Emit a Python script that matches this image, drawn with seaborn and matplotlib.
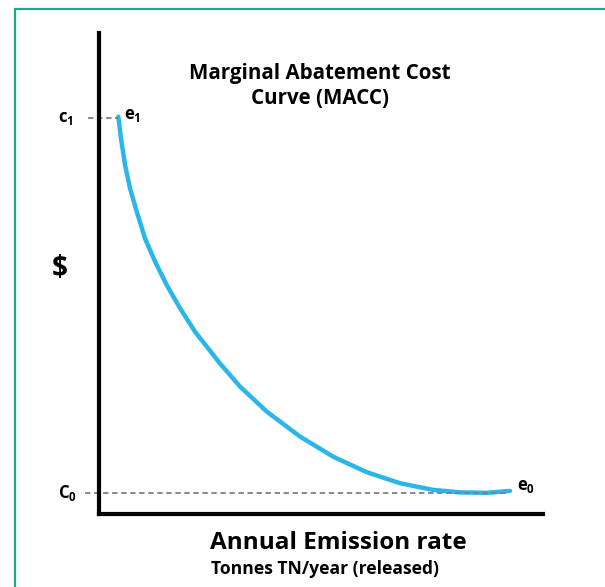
import pandas as pd
import seaborn as sns
import matplotlib.pyplot as plt
from matplotlib.lines import Line2D

# Точки кривой MACC (условные единицы, 0..100 по обеим осям)
emission = [4.35, 4.95, 5.86, 6.98, 8.49, 10.36, 12.61, 15.25, 18.24, 21.62,
            27.25, 31.76, 37.77, 45.27, 52.77, 60.29, 67.79, 75.29, 81.31,
            87.32, 92.57]
cost = [82.6, 78.1, 72.6, 67.7, 62.9, 57.3, 52.5, 47.6, 42.8, 37.9,
        31.3, 26.5, 21.3, 16.1, 11.9, 8.7, 6.4, 5.0, 4.5,
        4.4, 4.8]

c1_level = 82.3
c0_level = 4.4
c1_span = [-2.5, 4.3]
c0_span = [-3.2, 91.9]

title_text = "Marginal Abatement Cost\nCurve (MACC)"
xlabel_text = "Annual Emission rate"
xsub_text = "Tonnes TN/year (released)"

sns.set_style("white")
plt.rcParams['font.family'] = ['Open Sans', 'DejaVu Sans']
plt.rcParams['text.color'] = 'black'
plt.rcParams['mathtext.fontset'] = 'custom'
plt.rcParams['mathtext.rm'] = 'Open Sans'
plt.rcParams['mathtext.bf'] = 'Open Sans:bold'

data = pd.DataFrame({"emission": emission, "cost": cost})

fig = plt.figure(figsize=(6.05, 5.87), dpi=100)
ax = fig.add_axes([99 / 605, 1 - 514 / 587, 444 / 605, 481 / 587])

sns.lineplot(data=data, x="emission", y="cost", ax=ax, color="#2ab6ea",
             linewidth=3.2, sort=False)

# Пунктирные уровни c1 и C0
ax.plot(c1_span, [c1_level, c1_level], ls=(0, (3, 2)), color="#808080",
        lw=1.3, clip_on=False)
ax.plot(c0_span, [c0_level, c0_level], ls=(0, (3, 2)), color="#808080",
        lw=1.3, clip_on=False)

ax.set_xlim(0, 100)
ax.set_ylim(0, 100)
ax.set_xticks([])
ax.set_yticks([])
ax.set_xlabel("")
ax.set_ylabel("")
for s in ["top", "right"]:
    ax.spines[s].set_visible(False)
for s in ["left", "bottom"]:
    ax.spines[s].set_color("black")
    ax.spines[s].set_linewidth(3)

# Подписи
ax.text(-7.5, c1_level, r"$\mathbf{c_1}$", fontsize=12, ha="center",
        va="center", clip_on=False)
ax.text(-7.2, c0_level, r"$\mathbf{C_0}$", fontsize=12, ha="center",
        va="center", clip_on=False)
ax.text(5.6, 82.8, r"$\mathbf{e_1}$", fontsize=12, ha="left",
        va="center", clip_on=False)
ax.text(94.2, 5.8, r"$\mathbf{e_0}$", fontsize=12, ha="left",
        va="center", clip_on=False)
ax.text(-8.8, 51.1, r"\$", fontsize=20, fontweight="bold", ha="center",
        va="center", clip_on=False)
ax.text(49.8, 89.0, title_text, fontsize=14.8, fontweight="bold",
        ha="center", va="center", linespacing=1.2)

fig.text(338 / 605, 1 - 543 / 587, xlabel_text, fontsize=17.5,
         fontweight="bold", ha="center", va="center")
fig.text(325 / 605, 1 - 569 / 587, xsub_text, fontsize=12.6,
         fontweight="bold", ha="center", va="center")

# Зелёная рамка слева и сверху
border = "#1aa987"
fig.add_artist(Line2D([15 / 605, 15 / 605], [0, 1 - 9 / 587],
                      color=border, lw=1.6, transform=fig.transFigure))
fig.add_artist(Line2D([15 / 605, 1], [1 - 9 / 587, 1 - 9 / 587],
                      color=border, lw=1.6, transform=fig.transFigure))

fig.savefig("out.png", dpi=100)
